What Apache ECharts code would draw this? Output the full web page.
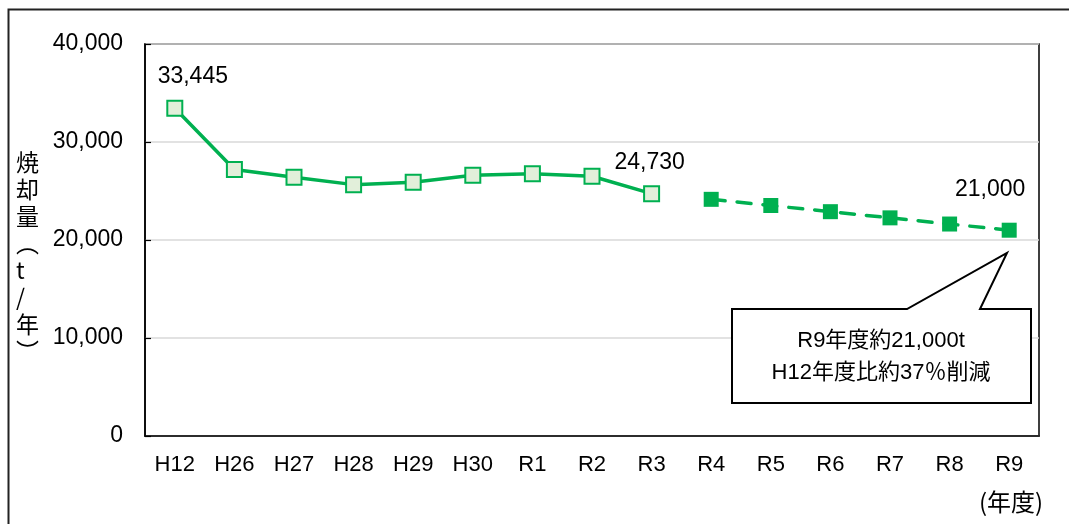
<!DOCTYPE html>
<html>
<head>
<meta charset="utf-8">
<script src="https://cdn.jsdelivr.net/npm/echarts@6/dist/echarts.min.js"></script>
<style>
  html, body { margin: 0; padding: 0; background: #fff; }
  #chart { width: 1069px; height: 524px; }
</style>
</head>
<body>
<div id="chart"></div>
<script>
// Fiscal years (Heisei / Reiwa)
const categories = ['H12', 'H26', 'H27', 'H28', 'H29', 'H30', 'R1', 'R2', 'R3', 'R4', 'R5', 'R6', 'R7', 'R8', 'R9'];
// Actual incineration amount (t/year), H12–R3
const actualValues = [33445, 27200, 26400, 25650, 25900, 26600, 26770, 26500, 24730];
// Target path (t/year), R4–R9
const targetValues = [24150, 23520, 22890, 22260, 21630, 21000];
// Points whose value is printed
const labeledActual = [0, 8];
const labeledTarget = [5];
const yTicks = [0, 10000, 20000, 30000, 40000];
const yAxisTitle = ['焼', '却', '量', '︵', 't', '/', '年', '︶'];
const unitLabel = '(年度)';
const calloutLines = ['R9年度約21,000t', 'H12年度比約37％削減'];

const FONT = "'Liberation Sans', Arial, 'Noto Sans CJK JP', sans-serif";
const CJK = "'Noto Sans CJK JP', sans-serif";
const GREEN = '#00B050';
const LIGHT = '#E2EFDA';

const fmt = v => v.toLocaleString('en-US');

const labelStyles = {
  a0: { show: true, position: 'top', distance: 12, offset: [18, 0] },
  a8: { show: true, position: 'top', distance: 11, offset: [-2, 0] },
  t5: { show: true, position: 'top', distance: 22, offset: [-19, 0] }
};

const actualData = categories.map((c, i) => {
  if (i >= actualValues.length) return '-';
  const item = { value: actualValues[i] };
  if (labeledActual.includes(i)) item.label = labelStyles['a' + i];
  return item;
});
const offset = actualValues.length;
const targetData = categories.map((c, i) => {
  const j = i - offset;
  if (j < 0) return '-';
  const item = { value: targetValues[j] };
  if (labeledTarget.includes(j)) item.label = labelStyles['t' + j];
  return item;
});

const chart = echarts.init(document.getElementById('chart'), null, { renderer: 'canvas' });

const labelCommon = {
  show: false,
  color: '#000',
  fontSize: 23,
  fontFamily: FONT,
  formatter: p => fmt(p.value)
};

chart.setOption({
  animation: false,
  backgroundColor: '#fff',
  grid: {
    left: 145, right: 30, top: 44, bottom: 88,
    show: true, borderColor: '#000', borderWidth: 1.5, backgroundColor: 'transparent'
  },
  xAxis: {
    type: 'category',
    data: categories,
    boundaryGap: true,
    axisLine: { lineStyle: { color: '#000', width: 1.5 } },
    axisTick: { inside: true, length: 5, alignWithLabel: false, lineStyle: { color: '#000', width: 1.2 } },
    axisLabel: { color: '#000', fontSize: 22, fontFamily: FONT, margin: 18 },
    splitLine: { show: false }
  },
  yAxis: {
    type: 'value',
    min: 0, max: 40000, interval: 10000,
    axisLine: { show: true, lineStyle: { color: '#000', width: 1.5 } },
    axisTick: { show: true, inside: true, length: 6, lineStyle: { color: '#000', width: 1.2 } },
    axisLabel: {
      color: '#000', fontSize: 23, fontFamily: FONT, margin: 22,
      formatter: v => yTicks.includes(v) ? fmt(v) : ''
    },
    splitLine: { show: true, lineStyle: { color: '#D9D9D9', width: 1.5 } }
  },
  series: [
    {
      name: 'actual',
      type: 'line',
      data: actualData,
      symbol: 'rect',
      symbolSize: 15,
      lineStyle: { color: GREEN, width: 3.5 },
      itemStyle: { color: LIGHT, borderColor: GREEN, borderWidth: 2 },
      label: labelCommon,
      z: 3
    },
    {
      name: 'target',
      type: 'line',
      data: targetData,
      symbol: 'rect',
      symbolSize: 15,
      lineStyle: { color: GREEN, width: 3.5, type: [14, 12], cap: 'round' },
      itemStyle: { color: GREEN, borderColor: GREEN, borderWidth: 0 },
      label: labelCommon,
      z: 3
    }
  ],
  graphic: [
    // outer frame
    {
      type: 'rect', left: 6, top: 7, silent: true,
      shape: { x: 0, y: 0, width: 1200, height: 700 },
      style: { fill: 'none', stroke: '#222', lineWidth: 2 }
    },
    // vertical axis title
    {
      type: 'text', left: 16, top: 149, silent: true,
      style: {
        text: yAxisTitle.join('\n'),
        fontSize: 23, lineHeight: 27, fontFamily: CJK,
        fill: '#000', align: 'center'
      }
    },
    // unit label
    {
      type: 'text', left: 979, top: 490, silent: true,
      style: { text: unitLabel, fontSize: 24, fontFamily: CJK, fill: '#000' }
    },
    // callout balloon
    {
      type: 'polygon', silent: true, z: 10,
      shape: {
        points: [[732, 309], [907, 309], [1007, 253], [980, 309], [1031, 309], [1031, 403], [732, 403]]
      },
      style: { fill: '#fff', stroke: '#000', lineWidth: 2 }
    },
    {
      type: 'text', silent: true, z: 11, x: 881, y: 357,
      style: {
        text: calloutLines.join('\n'),
        fontSize: 22, lineHeight: 32, fontFamily: FONT,
        fill: '#000', align: 'center', verticalAlign: 'middle'
      }
    }
  ]
});
</script>
</body>
</html>
